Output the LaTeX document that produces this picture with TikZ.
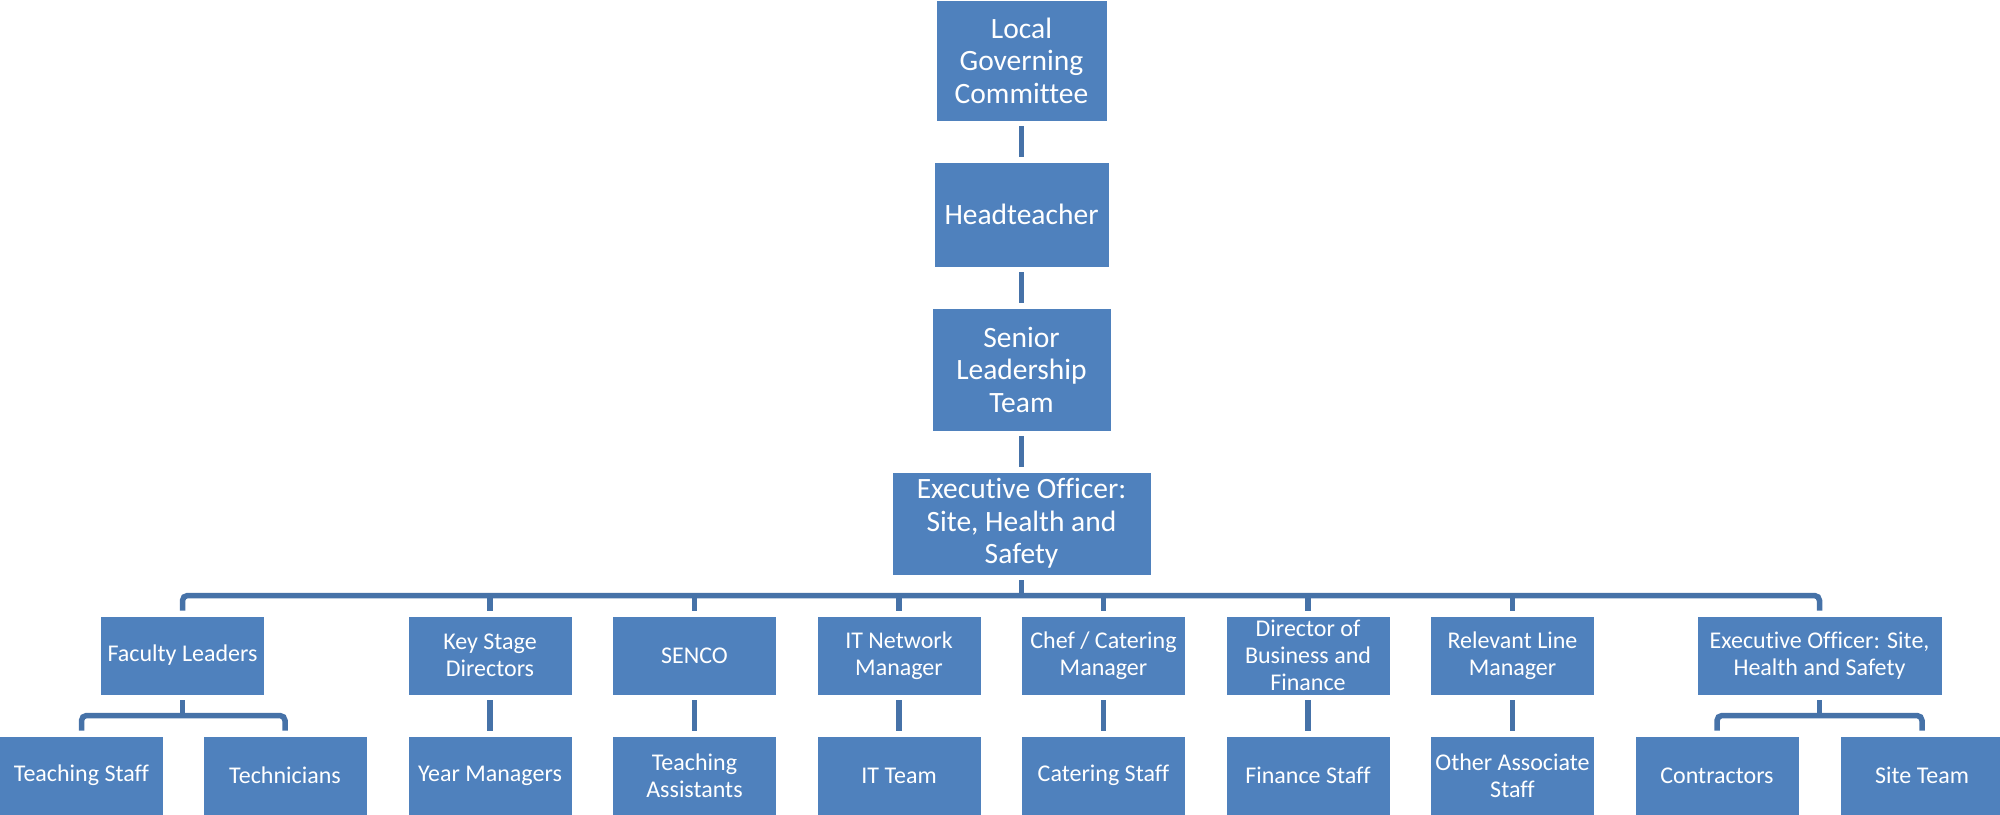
\documentclass[tikz,border=0pt]{standalone}
\usepackage{fontspec}
\setmainfont{Carlito}[Ligatures=NoCommon]
\definecolor{boxblue}{HTML}{4F81BD}
\definecolor{lineblue}{HTML}{4672A8}
\tikzset{
  box/.style={rectangle, fill=boxblue, draw=white, line width=0.6pt, text=white, align=center, inner sep=0pt},
  topbox/.style={box, font=\fontsize{29.5}{32.5}\selectfont},
  lowbox/.style={box, minimum width=164, minimum height=79, font=\fontsize{24}{26.7}\selectfont},
  conn/.style={draw=lineblue, line width=5.5pt},
  bus/.style={conn, rounded corners=5pt},
}
\begin{document}
\begin{tikzpicture}[x=1pt,y=-1pt]
\useasboundingbox (0,0) rectangle (2000,814);
\clip (0,0) rectangle (2000,814);
% top column
\node[topbox, minimum width=171, minimum height=121] (lgc) at (1021.5,60.5) {Local\\Governing\\Committee};
\node[topbox, minimum width=175, minimum height=105] (head) at (1021.5,214.5) {Headteacher};
\node[topbox, minimum width=179, minimum height=123] (slt) at (1021.5,369.5) {Senior\\Leadership\\Team};
\node[topbox, minimum width=259, minimum height=103] (exec) at (1021.5,523.5) {Executive Officer:\\Site, Health and\\Safety};
% second row
\node[lowbox] (fl) at (182.5,655.5) {Faculty Leaders};
\node[lowbox] (ks) at (490,655.5) {Key Stage\\Directors};
\node[lowbox] (sen) at (694.5,655.5) {SENCO};
\node[lowbox] (itm) at (899,655.5) {IT Network\\Manager};
\node[lowbox] (chef) at (1103.5,655.5) {Chef / Catering\\Manager};
\node[lowbox] (dir) at (1308,655.5) {Director of\\Business and\\Finance};
\node[lowbox] (rlm) at (1512.5,655.5) {Relevant Line\\Manager};
\node[lowbox, minimum width=245] (ex2) at (1819.5,655.5) {Executive Officer: Site,\\Health and Safety};
% third row
\node[lowbox] (ts) at (81.5,775.5) {Teaching Staff};
\node[lowbox] (tech) at (285,775.5) {Technicians};
\node[lowbox] (ym) at (490,775.5) {Year Managers};
\node[lowbox] (ta) at (694.5,775.5) {Teaching\\Assistants};
\node[lowbox] (itt) at (899,775.5) {IT Team};
\node[lowbox] (cs) at (1103.5,775.5) {Catering Staff};
\node[lowbox] (fs) at (1308,775.5) {Finance Staff};
\node[lowbox] (oas) at (1512.5,775.5) {Other Associate\\Staff};
\node[lowbox] (con) at (1717,775.5) {Contractors};
\node[lowbox] (st) at (1922,775.5) {Site Team};
% bus coordinates
\coordinate (mainbus) at (1021.5,595.5);
\coordinate (flbus) at (182.5,715.5);
\coordinate (exbus) at (1819.5,715.5);
% top connectors
\draw[conn] ([yshift=-5pt]lgc.south) -- ([yshift=5pt]head.north);
\draw[conn] ([yshift=-5pt]head.south) -- ([yshift=5pt]slt.north);
\draw[conn] ([yshift=-5pt]slt.south) -- ([yshift=5pt]exec.north);
\draw[conn] ([yshift=-5pt]exec.south) -- (mainbus);
% main bus
\draw[bus] ([yshift=5pt]fl.north) |- (mainbus) -| ([yshift=5pt]ex2.north);
\foreach \n in {ks,sen,itm,chef,dir,rlm}
  \draw[conn] ([yshift=5pt]\n.north) -- (\n.north |- mainbus);
% single links
\draw[conn] ([yshift=-5pt]ks.south) -- ([yshift=5pt]ym.north);
\draw[conn] ([yshift=-5pt]sen.south) -- ([yshift=5pt]ta.north);
\draw[conn] ([yshift=-5pt]itm.south) -- ([yshift=5pt]itt.north);
\draw[conn] ([yshift=-5pt]chef.south) -- ([yshift=5pt]cs.north);
\draw[conn] ([yshift=-5pt]dir.south) -- ([yshift=5pt]fs.north);
\draw[conn] ([yshift=-5pt]rlm.south) -- ([yshift=5pt]oas.north);
% faculty sub bus
\draw[conn] ([yshift=-5pt]fl.south) -- (flbus);
\draw[bus] ([yshift=5pt]ts.north) |- (flbus) -| ([yshift=5pt]tech.north);
% exec2 sub bus
\draw[conn] ([yshift=-5pt]ex2.south) -- (exbus);
\draw[bus] ([yshift=5pt]con.north) |- (exbus) -| ([yshift=5pt]st.north);
\end{tikzpicture}
\end{document}
